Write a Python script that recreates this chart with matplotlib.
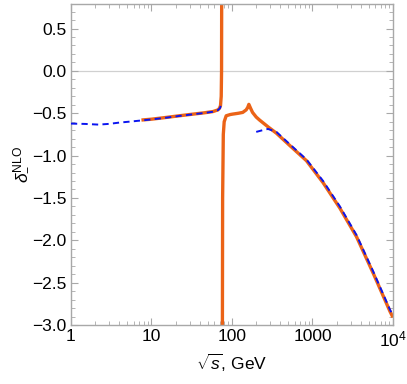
import numpy as np
import matplotlib
matplotlib.use("Agg")
import matplotlib.pyplot as plt
from matplotlib.ticker import LogLocator, MultipleLocator, NullFormatter

plt.rcParams['font.family'] = ['Liberation Sans', 'DejaVu Sans']
plt.rcParams['mathtext.fontset'] = 'custom'
plt.rcParams['mathtext.rm'] = 'Liberation Sans'
plt.rcParams['mathtext.it'] = 'Liberation Sans:italic'

# ---- data ----
# orange, below the pole
orange_lo_x = [7.5, 10, 15, 22, 33, 45, 58, 67, 70, 72, 73.5, 74.2, 74.8]
orange_lo_y = [-0.58, -0.57, -0.55, -0.53, -0.51, -0.495, -0.48, -0.46, -0.44, -0.41, -0.3, 0.0, 2.0]
# orange, above the pole
orange_hi_x = [75.4, 76.5, 78, 80, 84.7, 95, 102, 120, 136, 150, 157, 162,
               170, 180, 200, 220, 280, 356, 521, 841, 1355, 2188, 3532, 5689, 9183, 10000]
orange_hi_y = [-5.0, -1.5, -0.75, -0.6, -0.53, -0.515, -0.51, -0.50, -0.49, -0.46, -0.43, -0.395,
               -0.44, -0.49, -0.545, -0.58, -0.66, -0.735, -0.88, -1.06, -1.32, -1.62, -1.96, -2.39,
               -2.84, -2.91]
# blue dashed, low energy
blue_lo_x = [1, 1.5, 2.2, 3, 4, 5.5, 7.5, 10, 15, 22, 33, 45, 58, 66.5, 71, 73.5]
blue_lo_y = [-0.622, -0.626, -0.634, -0.625, -0.61, -0.598, -0.585, -0.573, -0.553, -0.532,
             -0.512, -0.497, -0.482, -0.465, -0.44, -0.39]
# blue dashed, high energy
blue_hi_x = [200, 240, 280, 356, 521, 841, 1355, 2188, 3532, 5689, 9183, 10000]
blue_hi_y = [-0.72, -0.70, -0.685, -0.72, -0.865, -1.045, -1.30, -1.60, -1.94, -2.37, -2.82, -2.89]

xtick_vals = [1, 10, 100, 1000, 10000]
xtick_labels = ['1', '10', '100', '1000', '$10^4$']
ytick_vals = [-3.0, -2.5, -2.0, -1.5, -1.0, -0.5, 0.0, 0.5]

orange = '#EB6317'
blue = '#0A14F0'
frame = '#A8A8A8'

fig = plt.figure(figsize=(4.07, 3.84), dpi=100)
ax = fig.add_axes([0.1744, 0.1536, 0.7912, 0.836])

ax.axhline(0, color='#D0D0D0', lw=0.9, zorder=0)

ax.plot(orange_lo_x, orange_lo_y, color=orange, lw=2.4, solid_capstyle='butt', zorder=2)
ax.plot(orange_hi_x, orange_hi_y, color=orange, lw=2.4, solid_capstyle='butt', zorder=2)
ax.plot(blue_lo_x, blue_lo_y, color=blue, lw=1.4, dashes=(3.2, 2.2), zorder=3)
ax.plot(blue_hi_x, blue_hi_y, color=blue, lw=1.4, dashes=(3.2, 2.2), zorder=3)

ax.set_xscale('log')
ax.set_xlim(1, 1e4)
ax.set_ylim(-3.0, 0.79)

ax.set_xticks(xtick_vals)
ax.set_xticklabels(xtick_labels)
ax.xaxis.set_minor_locator(LogLocator(base=10, subs=np.arange(2, 10)))
ax.xaxis.set_minor_formatter(NullFormatter())
ax.set_yticks(ytick_vals)
ax.set_yticklabels([f'{v:.1f}'.replace('-', '\u2212') for v in ytick_vals])
ax.yaxis.set_minor_locator(MultipleLocator(0.1))

for sp in ax.spines.values():
    sp.set_color(frame)
    sp.set_linewidth(1.0)

ax.tick_params(which='both', direction='in', top=True, right=True, color=frame,
               labelsize=12.5, labelcolor='black')
ax.tick_params(which='major', length=5, width=0.8, pad=3)
ax.tick_params(which='minor', length=2.8, width=0.6)

ax.set_xlabel(r'$\sqrt{s}$, GeV', fontsize=12.5, labelpad=2)
ax.set_ylabel(r'$\delta_{-}^{\mathrm{NLO}}$', fontsize=12.5, labelpad=2)

fig.savefig('out.png', dpi=100)
